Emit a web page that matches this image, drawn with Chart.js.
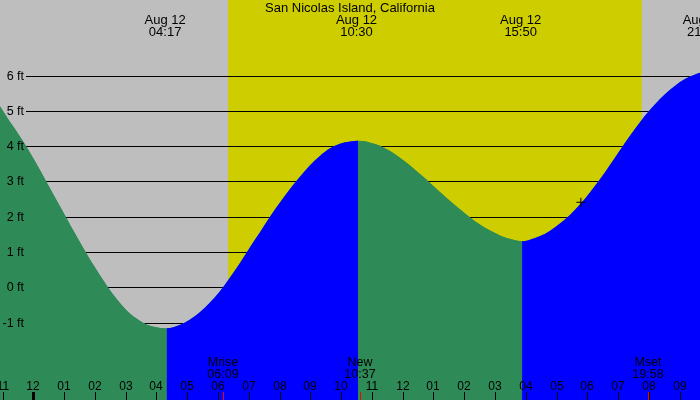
<!DOCTYPE html>
<html>
<head>
<meta charset="utf-8">
<title>San Nicolas Island tides</title>
<script src="https://cdn.jsdelivr.net/npm/chart.js@4/dist/chart.umd.min.js"></script>
<style>
  html, body { margin: 0; padding: 0; background: #bebebe; }
  #wrap { width: 700px; height: 400px; }
</style>
</head>
<body>
<div id="wrap"><canvas id="tideChart"></canvas></div>
<script>
// --- chart data ---
const chartTitle = 'San Nicolas Island, California';

// tide height (ft) against hour of Aug 12 (negative = the evening before)
const tideHours = [
    -1.41, -1.08, -0.76, -0.43, -0.11, 0.22, 0.54, 0.87, 1.19, 1.52, 1.84, 2.17,
    2.49, 2.82, 3.14, 3.47, 3.79, 4.12, 4.33,
    4.77, 5.09, 5.42, 5.74, 6.07, 6.39, 6.72, 7.04, 7.37, 7.69, 8.02, 8.34,
    8.67, 8.99, 9.32, 9.64, 9.96, 10.29, 10.55,
    10.94, 11.26, 11.59, 11.91, 12.24, 12.56, 12.89, 13.21, 13.54, 13.86,
    14.19, 14.51, 14.84, 15.16, 15.49, 15.88,
    16.30, 16.63, 16.95, 17.27, 17.60, 17.93, 18.25, 18.58, 18.90, 19.22,
    19.55, 19.87, 20.20, 20.52, 20.85, 21.17, 21.50, 21.66, 21.77, 22.2
];
const tideFeet = [
    5.50, 5.12, 4.69, 4.27, 3.82, 3.32, 2.81, 2.29, 1.78, 1.27, 0.79, 0.34,
    -0.08, -0.45, -0.74, -0.95, -1.09, -1.15, -1.16,
    -1.06, -0.91, -0.70, -0.43, -0.10, 0.28, 0.70, 1.14, 1.57, 2.00, 2.41, 2.79,
    3.14, 3.46, 3.73, 3.94, 4.07, 4.13, 4.15,
    4.10, 4.01, 3.86, 3.67, 3.45, 3.21, 2.96, 2.70, 2.45, 2.21,
    1.98, 1.78, 1.61, 1.47, 1.37, 1.31,
    1.40, 1.52, 1.70, 1.92, 2.20, 2.52, 2.88, 3.27, 3.68, 4.09,
    4.49, 4.86, 5.19, 5.47, 5.71, 5.90, 6.03, 6.08, 6.10, 6.05
];

// high / low labels along the top
const extremeDates = ['Aug 12', 'Aug 12', 'Aug 12', 'Aug 12'];
const extremeTimes = ['04:17', '10:30', '15:50', '21:46'];
const extremeHours = [4.283, 10.5, 15.833, 21.767];

// moon events along the bottom
const moonNames = ['Mrise', 'New', 'Mset'];
const moonTimes = ['06:09', '10:37', '19:58'];
const moonHours = [6.15, 10.617, 19.967];

// daylight
const sunriseHour = 6.33;
const sunsetHour = 19.767;

// current-time marker
const markerHours = [17.79];
const markerFeet = [2.41];

// axis ticks
const feetTicks = [-1, 0, 1, 2, 3, 4, 5, 6];
const hourTicks = [-1, 0, 1, 2, 3, 4, 5, 6, 7, 8, 9, 10, 11, 12, 13, 14, 15, 16, 17, 18, 19, 20, 21];
const hourLabels = ['11', '12', '01', '02', '03', '04', '05', '06', '07', '08', '09', '10',
                    '11', '12', '01', '02', '03', '04', '05', '06', '07', '08', '09'];

const FONT = '"Liberation Sans", Arial, sans-serif';
const GREEN = '#2e8b57';
const BLUE = '#0000ff';

// --- background: night grey, day yellow, then grid lines ---
const backdropPlugin = {
    id: 'backdrop',
    beforeDatasetsDraw(chart) {
        const { ctx, chartArea: a, scales: { x, y } } = chart;
        ctx.save();
        ctx.fillStyle = '#bebebe';
        ctx.fillRect(a.left, a.top, a.right - a.left, a.bottom - a.top);
        const x0 = x.getPixelForValue(sunriseHour);
        const x1 = x.getPixelForValue(sunsetHour);
        ctx.fillStyle = '#cdcd00';
        ctx.fillRect(x0, a.top, x1 - x0, a.bottom - a.top);

        ctx.strokeStyle = '#000';
        ctx.lineWidth = 1;
        feetTicks.forEach(v => {
            const py = Math.round(y.getPixelForValue(v)) + 0.5;
            ctx.beginPath();
            ctx.moveTo(26, py);
            ctx.lineTo(a.right, py);
            ctx.stroke();
        });
        ctx.restore();
    }
};

// --- text and tick marks on top of the water ---
const labelsPlugin = {
    id: 'labels',
    afterDatasetsDraw(chart) {
        const { ctx, chartArea: a, scales: { x, y } } = chart;
        ctx.save();
        ctx.fillStyle = '#000';

        // title
        ctx.font = '13px ' + FONT;
        ctx.textAlign = 'center';
        ctx.textBaseline = 'alphabetic';
        ctx.fillText(chartTitle, 350, 12);

        // high / low times
        extremeHours.forEach((h, i) => {
            const px = x.getPixelForValue(h);
            ctx.fillText(extremeDates[i], px, 24);
            ctx.fillText(extremeTimes[i], px, 36);
        });

        // y labels
        ctx.textAlign = 'right';
        ctx.textBaseline = 'middle';
        ctx.font = '12.5px ' + FONT;
        feetTicks.forEach(v => {
            ctx.fillText(v + ' ft', 24, y.getPixelForValue(v) + 0.5);
        });

        // hour labels and ticks (midnight tick is thicker)
        ctx.textAlign = 'center';
        ctx.textBaseline = 'alphabetic';
        ctx.font = '12px ' + FONT;
        hourTicks.forEach((h, i) => {
            const px = Math.round(x.getPixelForValue(h));
            ctx.fillText(hourLabels[i], px, 390);
            if (h === 0) {
                ctx.fillRect(px - 1, 392, 3, a.bottom - 392);
            } else {
                ctx.fillRect(px, 392, 1, a.bottom - 392);
            }
        });

        // moon events
        ctx.font = '12.5px ' + FONT;
        moonHours.forEach((h, i) => {
            const px = Math.round(x.getPixelForValue(h));
            ctx.fillStyle = '#000';
            ctx.fillText(moonNames[i], px, 366);
            ctx.fillText(moonTimes[i], px, 378);
            ctx.fillStyle = '#ff0000';
            ctx.fillRect(px, 392, 1, a.bottom - 392);
        });
        ctx.restore();
    }
};

const tidePoints = tideHours.map((h, i) => ({ x: h, y: tideFeet[i] }));
const markerPoints = markerHours.map((h, i) => ({ x: h, y: markerFeet[i] }));

new Chart(document.getElementById('tideChart'), {
    type: 'line',
    data: {
        datasets: [{
            label: 'Now',
            type: 'scatter',
            data: markerPoints,
            pointStyle: 'cross',
            pointRadius: 4.5,
            borderColor: '#000',
            borderWidth: 1,
            order: 1
        }, {
            label: 'Tide',
            data: tidePoints,
            fill: 'start',
            borderWidth: 0,
            borderColor: 'rgba(0,0,0,0)',
            backgroundColor: GREEN,
            pointRadius: 0,
            cubicInterpolationMode: 'monotone',
            segment: {
                // rising water blue, falling water green
                backgroundColor: c => c.p1.parsed.y > c.p0.parsed.y ? BLUE : GREEN
            },
            order: 2
        }, {
            // plain layer under the tide so no seams show where the colour switches
            label: 'Tide underlay',
            data: tidePoints,
            fill: 'start',
            borderWidth: 0,
            borderColor: 'rgba(0,0,0,0)',
            backgroundColor: GREEN,
            pointRadius: 0,
            cubicInterpolationMode: 'monotone',
            order: 3
        }]
    },
    options: {
        responsive: true,
        maintainAspectRatio: false,
        animation: false,
        layout: { padding: 0, autoPadding: false },
        scales: {
            x: { type: 'linear', min: -1.082, max: 21.66, display: false },
            y: { type: 'linear', min: -3.19, max: 8.14, display: false }
        },
        plugins: {
            legend: { display: false },
            tooltip: { enabled: false }
        }
    },
    plugins: [backdropPlugin, labelsPlugin]
});
</script>
</body>
</html>
